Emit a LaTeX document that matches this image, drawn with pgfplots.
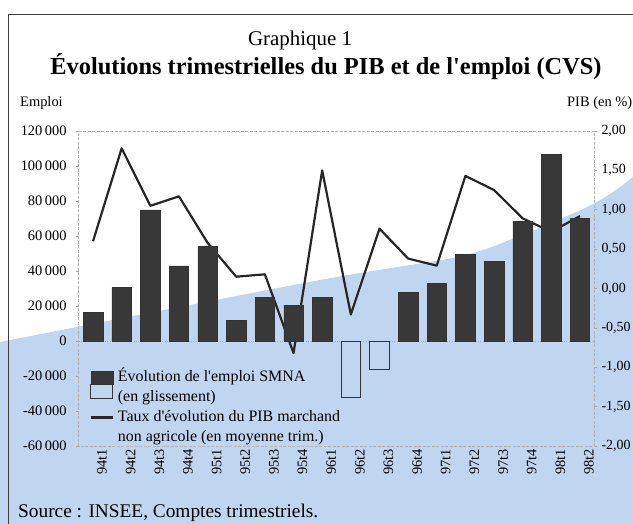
\documentclass[border=0pt]{standalone}
\usepackage{fontspec}
\setmainfont{Liberation Serif}[Ligatures=TeXOff]
\usepackage{pgfplots}
\usepackage{pgfplotstable}
\pgfplotsset{compat=1.18}
\definecolor{bgblue}{RGB}{192,214,240}
\definecolor{bardark}{RGB}{56,56,56}

\pgfplotstableread{
x emp
0 16500
1 30500
2 75000
3 43000
4 54000
5 12000
6 25000
7 20500
8 25000
11 27600
12 33000
13 49700
14 45300
15 68400
16 106700
17 69900
}\emppos

\pgfplotstableread{
x emp
9 -32400
10 -16200
}\empneg

\pgfplotstableread{
x pib
0 0.60
1 1.78
2 1.05
3 1.17
4 0.58
5 0.15
6 0.18
7 -0.82
8 1.50
9 -0.33
10 0.76
11 0.38
12 0.29
13 1.43
14 1.25
15 0.89
16 0.72
17 0.92
}\pib

\pgfplotsset{
  base/.style={
    scale only axis, width=515.6bp, height=315bp,
    at={(78.7bp,-446bp)}, anchor=south west,
    xmin=-0.5, xmax=17.5,
    axis line style={gray!60, line width=0.6bp, dash pattern=on 3bp off 1.5bp},
    tick align=outside, major tick length=3bp,
    tick style={gray!70, line width=0.6bp, solid},
    tick label style={font=\fontsize{14.5}{16}\selectfont},
    scaled y ticks=false,
  },
  legfill/.style={legend image code/.code={\path[draw=none, fill=none] (0bp,-6bp) rectangle (22bp,6bp); \draw[##1, overlay] (0bp,-6.5bp) rectangle (22bp,6.5bp);}},
  legempty/.style={legend image code/.code={\path[draw=none, fill=none] (0bp,-6bp) rectangle (22bp,6bp); \draw[##1, overlay] (0bp,-1.1bp) rectangle (22bp,12.9bp);}},
  legline/.style={legend image code/.code={\draw[##1] (0bp,0bp) -- (22bp,0bp);}},
  legnone/.style={legend image code/.code={}},
}

\begin{document}
\begin{tikzpicture}
\path[use as bounding box] (0,0) rectangle (633bp,-524bp);
\fill[bgblue] plot[smooth] coordinates {(0bp,-342bp) (320bp,-280bp) (457bp,-257bp) (517bp,-237bp) (595bp,-203bp) (633bp,-177bp)} -- (633bp,-524bp) -- (0bp,-524bp) -- cycle;
\draw[black!75, line width=0.9bp] (8bp,-524bp) -- (8bp,-14bp) -- (633bp,-14bp);

\node[font=\fontsize{21}{25}\selectfont] at (300bp,-40bp) {Graphique 1};
\node[font=\fontsize{24.5}{28}\selectfont\bfseries] at (326bp,-67bp) {Évolutions trimestrielles du PIB et de l'emploi (CVS)};
\node[font=\fontsize{14.5}{16}\selectfont, anchor=west, inner sep=0pt] at (20bp,-103bp) {Emploi};
\node[font=\fontsize{14.5}{16}\selectfont, anchor=west, inner sep=0pt] at (567bp,-103bp) {PIB (en \%)};
\node[font=\fontsize{19.4}{22}\selectfont, anchor=west, inner sep=0pt] at (18bp,-513bp) {Source : INSEE, Comptes trimestriels.};

% PIB line (right axis), drawn first so bars lie over it
\begin{axis}[base,
  hide x axis,
  axis y line*=right,
  ymin=-2, ymax=2,
  ytick={-2,-1.5,-1,-0.5,0,0.5,1,1.5,2},
  yticklabels={{-2,00},{-1,50},{-1,00},{-0,50},{0,00},{0,50},{1,00},{1,50},{2,00}},
  yticklabel style={inner sep=0pt, xshift=4bp, font=\fontsize{14}{16}\selectfont},
]
\addplot[black!85, line width=2.2bp, line join=round] table[x=x, y=pib] {\pib};
\end{axis}

% employment bars (left axis)
\begin{axis}[base,
  ymin=-60000, ymax=120000,
  ytick={-60000,-40000,-20000,0,20000,40000,60000,80000,100000,120000},
  yticklabels={{-60\,000},{-40\,000},{-20\,000},0,{20\,000},{40\,000},{60\,000},{80\,000},{100\,000},{120\,000}},
  ytick pos=left,
  yticklabel style={inner sep=0pt, xshift=-9bp},
  xtick={0,...,17},
  xticklabels={94t1,94t2,94t3,94t4,95t1,95t2,95t3,95t4,96t1,96t2,96t3,96t4,97t1,97t2,97t3,97t4,98t1,98t2},
  xtick style={draw=none},
  xticklabel style={rotate=90, anchor=east, inner sep=0pt, yshift=-9bp},
  extra y ticks={0}, extra y tick labels={},
  extra y tick style={grid=major, major grid style={gray!70, dotted, line width=0.7bp}, tick style={draw=none}},
  legend style={at={(0.021,0.245)}, anchor=north west, draw=none, fill=none,
    font=\fontsize{16}{18}\selectfont, inner sep=0pt, row sep=3bp, column sep=3bp,
    nodes={inner sep=1bp, text height=11bp, text depth=4bp}},
  legend cell align=left,
]
\addplot[ybar, bar width=19.5bp, bar shift=0pt, fill=bardark, draw=black!80, line width=0.5bp, legfill]
  table[x=x, y=emp] {\emppos};
\addlegendentry{Évolution de l'emploi SMNA}
\addplot[ybar, bar width=19.5bp, bar shift=0pt, fill=none, draw=black!80, line width=0.8bp, legempty]
  table[x=x, y=emp] {\empneg};
\addlegendentry{(en glissement)}
\addlegendimage{black!85, line width=2.2bp, legline}
\addlegendentry{Taux d'évolution du PIB marchand}
\addlegendimage{legnone}
\addlegendentry{non agricole (en moyenne trim.)}
\end{axis}
\end{tikzpicture}
\end{document}
